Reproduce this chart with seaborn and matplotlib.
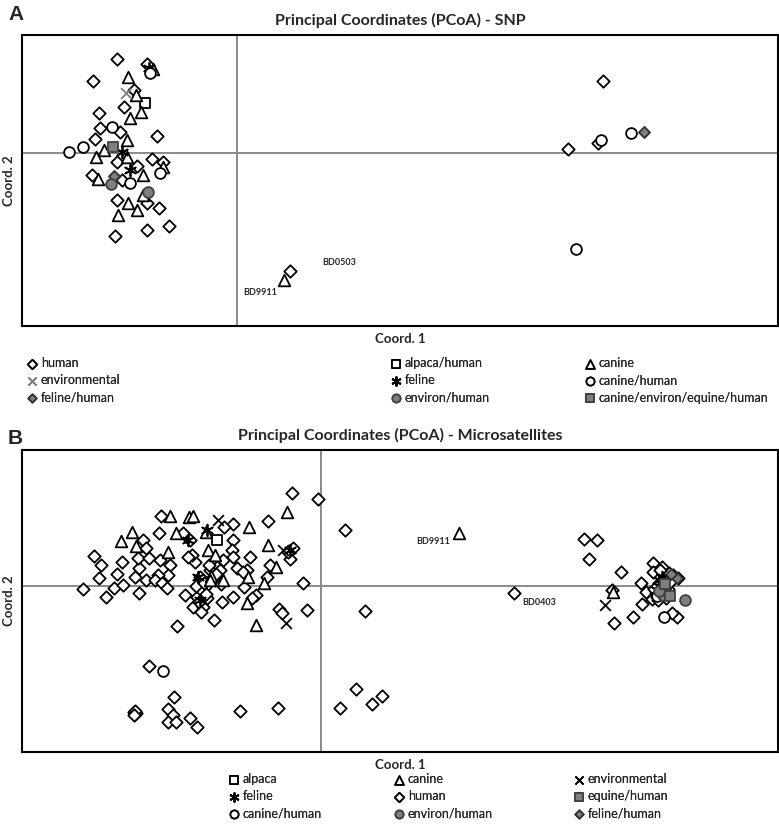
import matplotlib
matplotlib.use("Agg")
import matplotlib.pyplot as plt
import numpy as np
import pandas as pd
import seaborn as sns

# ---- panel A (SNP) coordinates ----
a_human_x = [-1.20, -0.90, -1.44, -1.03, -1.13, -1.38, -1.37, -1.17, -1.42, -0.80,
             -1.20, -0.85, -0.74, -1.45, -1.00, -1.15, -1.20, -0.90, -0.78, -1.22,
             -0.90, -0.68, 3.61, 3.66, 3.31, 0.53]
a_human_y = [0.94, 0.89, 0.72, 0.63, 0.46, 0.40, 0.25, 0.21, 0.14, 0.17,
             -0.09, -0.06, -0.09, -0.22, -0.13, -0.27, -0.47, -0.50, -0.55, -0.83,
             -0.77, -0.73, 0.10, 0.72, 0.04, -1.18]
a_canine_x = [-1.09, -0.84, -1.07, -0.96, -1.01, -1.10, -1.33, -1.41, -1.10, -1.39,
              -0.94, -0.74, -1.19, -1.09, -1.00, -0.94, 0.47]
a_canine_y = [0.76, 0.84, 0.35, 0.41, 0.58, 0.13, 0.03, -0.04, -0.04, -0.26,
              -0.22, -0.14, -0.62, -0.50, -0.57, -0.42, -1.27]
a_canhum_x = [-0.87, -1.25, -1.54, -1.68, -1.07, -0.77, 3.64, 3.94, 3.39]
a_canhum_y = [0.80, 0.26, 0.06, 0.01, -0.30, -0.20, 0.13, 0.20, -0.96]
a_env_x, a_env_y = [-1.11], [0.60]
a_alphum_x, a_alphum_y = [-0.92], [0.50]
a_feline_x, a_feline_y = [-1.07, -0.88, -1.15], [-0.17, 0.85, 0.01]
a_envhum_x, a_envhum_y = [-1.26, -0.89], [-0.31, -0.39]
a_felhum_x, a_felhum_y = [-1.23, 4.07], [-0.23, 0.21]
a_ceeh_x, a_ceeh_y = [-1.24], [0.06]

a_labels = ["BD0503", "BD9911"]
a_label_x = [0.85, 0.06]
a_label_y = [-1.09, -1.39]

# ---- panel B (microsatellites) ----
b_human_x = [-1.60, -1.62, -2.27, -2.20, -1.99, -2.22, -2.04, -2.38, -2.15, -2.07,
             -1.98, -1.86, -1.82, -1.83, -1.78, -1.75, -1.72, -1.61, -1.51, -1.53,
             -1.63, -1.82, -1.75, -1.66, -1.59, -1.54, -1.44, -1.36, -1.26, -1.29,
             -1.21, -1.16, -1.24, -1.14, -1.28, -1.18, -1.07, -0.99, -0.98, -1.04,
             -1.11, -1.38, -1.31, -1.33, -1.09, -0.29, -0.03, -0.53, -0.88, -0.88,
             -0.89, -0.88, -0.97, -0.71, -0.74, -0.84, -0.78, -0.51, -0.54, -0.31,
             -0.28, -0.33, -0.77, -0.88, -0.65, -0.69, -0.42, -0.39, -0.18, -0.14,
             -1.06, -1.01, -1.12, 0.44, 0.24, -1.72, -1.47, -1.87, -1.86, -1.85,
             -1.86, -1.87, -1.53, -1.48, -1.53, -1.45, -1.31, -1.24, -0.81, -0.43,
             0.19, 0.35, 0.51, 0.61, 1.93, 2.63, 2.76, 2.68, 3.00, 3.32,
             3.41, 3.32, 3.20, 3.25, 3.21, 3.12, 2.93, 2.91, 3.56, 3.51,
             3.31, 3.36, 3.39, 3.46, 3.57, 3.52, 3.42, 3.40, 3.44, 3.38,
             3.47, 3.43, 3.35, 3.49, 3.37, 3.45, 3.41, 3.33, 3.48, 3.39,
             -1.19, -1.22, -1.15, -1.25, -1.17, -1.20, -1.05, -1.00]
b_human_y = [0.70, 0.53, 0.30, 0.21, 0.24, 0.08, 0.12, -0.03, -0.11, -0.02,
             0.01, 0.09, 0.18, 0.28, 0.46, 0.38, 0.28, 0.26, 0.21, 0.11,
             0.11, -0.07, 0.06, 0.06, 0.03, -0.02, -0.40, -0.09, 0.24, 0.31,
             0.09, -0.01, -0.11, -0.12, -0.21, -0.21, -0.34, -0.16, 0.26, 0.19,
             0.16, 0.53, 0.46, 0.29, 0.08, 0.93, 0.87, 0.65, 0.62, 0.46,
             0.36, 0.29, 0.59, 0.29, 0.16, 0.18, 0.14, 0.21, 0.09, 0.27,
             0.38, 0.34, -0.01, -0.11, -0.09, -0.12, -0.23, -0.27, 0.03, -0.24,
             0.06, 0.16, 0.21, -0.25, 0.56, -0.80, -1.11, -1.26, -1.28, -1.27,
             -1.25, -1.29, -1.23, -1.29, -1.36, -1.36, -1.32, -1.41, -1.25, -1.22,
             -1.22, -1.03, -1.18, -1.10, -0.07, 0.47, 0.46, 0.27, 0.14, 0.23,
             0.19, 0.14, 0.03, -0.06, -0.18, -0.31, -0.37, -0.04, -0.31, -0.27,
             -0.13, -0.11, -0.01, 0.09, 0.08, 0.11, 0.06, -0.05, -0.08, 0.03,
             -0.03, 0.02, -0.07, 0.04, -0.14, -0.12, 0.00, -0.03, 0.13, 0.16,
             -0.05, -0.16, -0.08, 0.00, 0.03, -0.26, 0.12, 0.02]
b_canine_x = [-2.00, -1.89, -1.85, -1.51, -1.32, -1.28, -1.45, -1.53, -1.15, -1.13,
              -1.06, -1.10, -0.98, -0.34, -0.72, -0.53, -0.45, -0.57, -0.74, -0.65,
              -0.73, -1.11, 1.38, 2.92]
b_canine_y = [0.45, 0.54, 0.40, 0.70, 0.69, 0.70, 0.53, 0.34, 0.54, 0.36,
              0.31, 0.10, 0.06, 0.74, 0.59, 0.41, 0.19, 0.03, -0.17, -0.39,
              0.09, 0.06, 0.53, -0.06]
b_env_x = [-1.03, -0.35, -0.38, 2.84]
b_env_y = [0.66, -0.37, 0.36, -0.19]
b_alpaca_x, b_alpaca_y = [-1.04], [0.46]
b_feline_x = [-1.33, -1.23, -1.14, -0.31, 3.41, 3.36, -1.21, 3.44, 3.38]
b_feline_y = [0.46, 0.09, 0.56, 0.36, 0.09, -0.04, -0.14, -0.06, 0.06]
b_canhum_x, b_canhum_y = [-1.58, 3.43, 3.36], [-0.85, -0.31, -0.10]
b_envhum_x, b_envhum_y = [3.64, 3.42, 3.38], [-0.14, -0.09, -0.05]
b_eqhum_x, b_eqhum_y = [3.49, 3.44], [-0.10, 0.02]
b_felhum_x, b_felhum_y = [3.56, 3.50], [0.08, 0.12]

b_labels = ["BD9911", "BD0403"]
b_label_x = [1.29, 2.01]
b_label_y = [0.45, -0.16]

GREY = "#7f7f7f"
STAR = (6, 2, 0)

# group name -> (marker, face, edge, size)
styles = {
    "human": ("D", "white", "black", 40),
    "alpaca/human": ("s", "white", "black", 60),
    "alpaca": ("s", "white", "black", 60),
    "canine": ("^", "white", "black", 70),
    "environmental": ("x", None, "black", 60),
    "feline": (STAR, None, "black", 70),
    "canine/human": ("o", "white", "black", 60),
    "environ/human": ("o", GREY, "#404040", 60),
    "feline/human": ("D", GREY, "#303030", 32),
    "equine/human": ("s", GREY, "#404040", 55),
    "canine/environ/equine/human": ("s", GREY, "#404040", 55),
}

sns.set_style("white")
plt.rcParams["font.family"] = ["Lato", "DejaVu Sans"]

fig = plt.figure(figsize=(7.79, 8.33), dpi=100)
ax_a = fig.add_axes([0.0282, 0.6086, 0.9705, 0.3493])
ax_b = fig.add_axes([0.0282, 0.0972, 0.9705, 0.3626])


def draw_group(ax, name, xs, ys, edge=None):
    m, face, ec, s = styles[name]
    if edge is not None:
        ec = edge
    if face is None:
        sns.scatterplot(x=xs, y=ys, ax=ax, marker=m, s=s, color=ec,
                        linewidth=1.3, label=name, zorder=3)
    else:
        sns.scatterplot(x=xs, y=ys, ax=ax, marker=m, s=s, facecolor=face,
                        edgecolor=ec, linewidth=1.3, label=name, zorder=3)


def style_axes(ax, title, xlim, ylim):
    ax.axhline(0, color="#8a8a8a", lw=1.4, zorder=1)
    ax.axvline(0, color="#8a8a8a", lw=1.4, zorder=1)
    ax.set_xlim(*xlim)
    ax.set_ylim(*ylim)
    ax.set_xticks([])
    ax.set_yticks([])
    for sp in ax.spines.values():
        sp.set_color("black")
        sp.set_linewidth(1.5)
    ax.set_title(title, fontsize=11.5, fontweight="bold", pad=7)
    ax.set_xlabel("Coord. 1", fontsize=9.5, fontweight="bold", labelpad=5)
    ax.set_ylabel("Coord. 2", fontsize=9.5, fontweight="bold", labelpad=5)


def add_legend_columns(ax, columns, xs, top):
    handles, labels = ax.get_legend_handles_labels()
    lookup = dict(zip(labels, handles))
    ax.get_legend().remove()
    for col, x in zip(columns, xs):
        leg = fig.legend([lookup[c] for c in col], col, loc="upper left",
                         bbox_to_anchor=(x / 779, 1 - top / 833), frameon=False,
                         fontsize=9, handlelength=0.8, handletextpad=0.3,
                         labelspacing=0.42, borderpad=0, borderaxespad=0,
                         markerscale=0.75)
        fig.add_artist(leg)


# panel A
draw_group(ax_a, "human", a_human_x, a_human_y)
draw_group(ax_a, "alpaca/human", a_alphum_x, a_alphum_y)
draw_group(ax_a, "canine", a_canine_x, a_canine_y)
draw_group(ax_a, "environmental", a_env_x, a_env_y, edge=GREY)
draw_group(ax_a, "feline", a_feline_x, a_feline_y)
draw_group(ax_a, "canine/human", a_canhum_x, a_canhum_y)
draw_group(ax_a, "feline/human", a_felhum_x, a_felhum_y)
draw_group(ax_a, "environ/human", a_envhum_x, a_envhum_y)
draw_group(ax_a, "canine/environ/equine/human", a_ceeh_x, a_ceeh_y)
for t, x, y in zip(a_labels, a_label_x, a_label_y):
    ax_a.text(x, y, t, fontsize=6.5, fontweight="bold", va="center")
style_axes(ax_a, "Principal Coordinates (PCoA) - SNP", (-2.15, 5.41), (-1.73, 1.18))
add_legend_columns(ax_a, [["human", "environmental", "feline/human"],
                          ["alpaca/human", "feline", "environ/human"],
                          ["canine", "canine/human", "canine/environ/equine/human"]],
                   [27, 391, 585], 357)

# panel B
draw_group(ax_b, "human", b_human_x, b_human_y)
draw_group(ax_b, "alpaca", b_alpaca_x, b_alpaca_y)
draw_group(ax_b, "canine", b_canine_x, b_canine_y)
draw_group(ax_b, "environmental", b_env_x, b_env_y)
draw_group(ax_b, "feline", b_feline_x, b_feline_y)
draw_group(ax_b, "canine/human", b_canhum_x, b_canhum_y)
draw_group(ax_b, "environ/human", b_envhum_x, b_envhum_y)
draw_group(ax_b, "equine/human", b_eqhum_x, b_eqhum_y)
draw_group(ax_b, "feline/human", b_felhum_x, b_felhum_y)
for t, x, y in zip(b_labels, b_label_x, b_label_y):
    ax_b.text(x, y, t, fontsize=6.5, fontweight="bold", va="center",
              ha="right" if t == "BD9911" else "left")
style_axes(ax_b, "Principal Coordinates (PCoA) - Microsatellites", (-2.99, 4.57), (-1.66, 1.36))
add_legend_columns(ax_b, [["alpaca", "feline", "canine/human"],
                          ["canine", "human", "environ/human"],
                          ["environmental", "equine/human", "feline/human"]],
                   [229, 394, 574], 773)

fig.text(8 / 779, 1 - 15 / 833, "A", fontsize=15, fontweight="bold", va="center",
         family=["Liberation Sans", "DejaVu Sans"])
fig.text(8 / 779, 1 - 438 / 833, "B", fontsize=15, fontweight="bold", va="center",
         family=["Liberation Sans", "DejaVu Sans"])

fig.savefig("out.png", dpi=100)
